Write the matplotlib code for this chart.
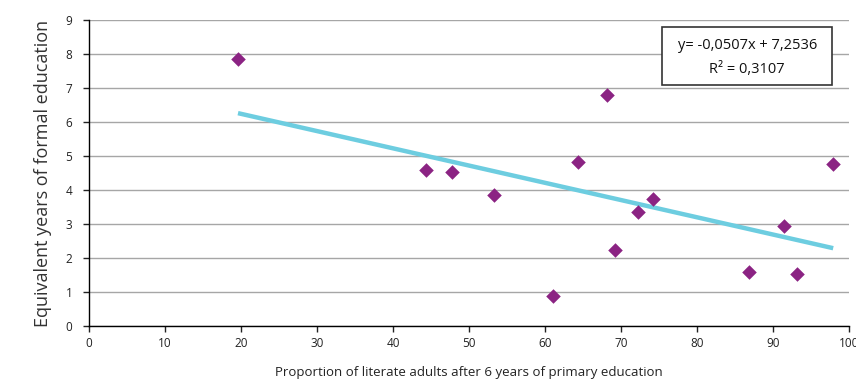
import matplotlib
matplotlib.use("Agg")
import matplotlib.pyplot as plt
from matplotlib.patches import Rectangle
import numpy as np

plt.rcParams['font.family'] = ['Open Sans', 'DejaVu Sans']

literacy = [19.6, 44.3, 47.8, 53.3, 61.1, 64.3, 68.2, 69.2, 72.2, 74.2, 86.8, 91.4, 93.2, 97.9]
years = [7.85, 4.59, 4.53, 3.85, 0.88, 4.82, 6.79, 2.24, 3.35, 3.74, 1.59, 2.94, 1.53, 4.76]
slope = -0.0507
intercept = 7.2536
x_ticks = list(range(0, 101, 10))
y_ticks = list(range(0, 10))

fig = plt.figure(figsize=(8.56, 3.91), dpi=100)
ax = fig.add_axes([0.104, 0.166, 0.888, 0.783])

ax.set_xlim(0, 100)
ax.set_ylim(0, 9)
ax.set_xticks(x_ticks)
ax.set_yticks(y_ticks)
ax.yaxis.grid(True, color='#a6a6a6', linewidth=1)
ax.set_axisbelow(True)
for s in ['top', 'right']:
    ax.spines[s].set_visible(False)
for s in ['left', 'bottom']:
    ax.spines[s].set_color('black')
    ax.spines[s].set_linewidth(1)
ax.tick_params(axis='both', labelsize=8.5, colors='#222222', length=4, width=1, direction='out')
ax.tick_params(axis='y', pad=8)

xs = np.array([min(literacy), max(literacy)])
ax.plot(xs, slope * xs + intercept, color='#6dcde0', linewidth=3.2, solid_capstyle='butt', zorder=2)
ax.scatter(literacy, years, marker='D', s=55, color='#8b2383', zorder=3, linewidths=0)

ax.set_xlabel('Proportion of literate adults after 6 years of primary education', fontsize=9.5, color='#222222', labelpad=12)
ax.set_ylabel('Equivalent years of formal education', fontsize=13, color='#333333', labelpad=10)

box = Rectangle((0.754, 0.788), 0.224, 0.189, transform=ax.transAxes, facecolor='white',
                edgecolor='#333333', linewidth=1.2, zorder=4, clip_on=False)
ax.add_patch(box)
ax.text(0.866, 0.918, 'y= -0,0507x + 7,2536', transform=ax.transAxes, ha='center', va='center',
        fontsize=10.5, color='#111111', zorder=5)
ax.text(0.866, 0.837, 'R² = 0,3107', transform=ax.transAxes, ha='center', va='center',
        fontsize=10.5, color='#111111', zorder=5)

fig.savefig('out.png', dpi=100)
